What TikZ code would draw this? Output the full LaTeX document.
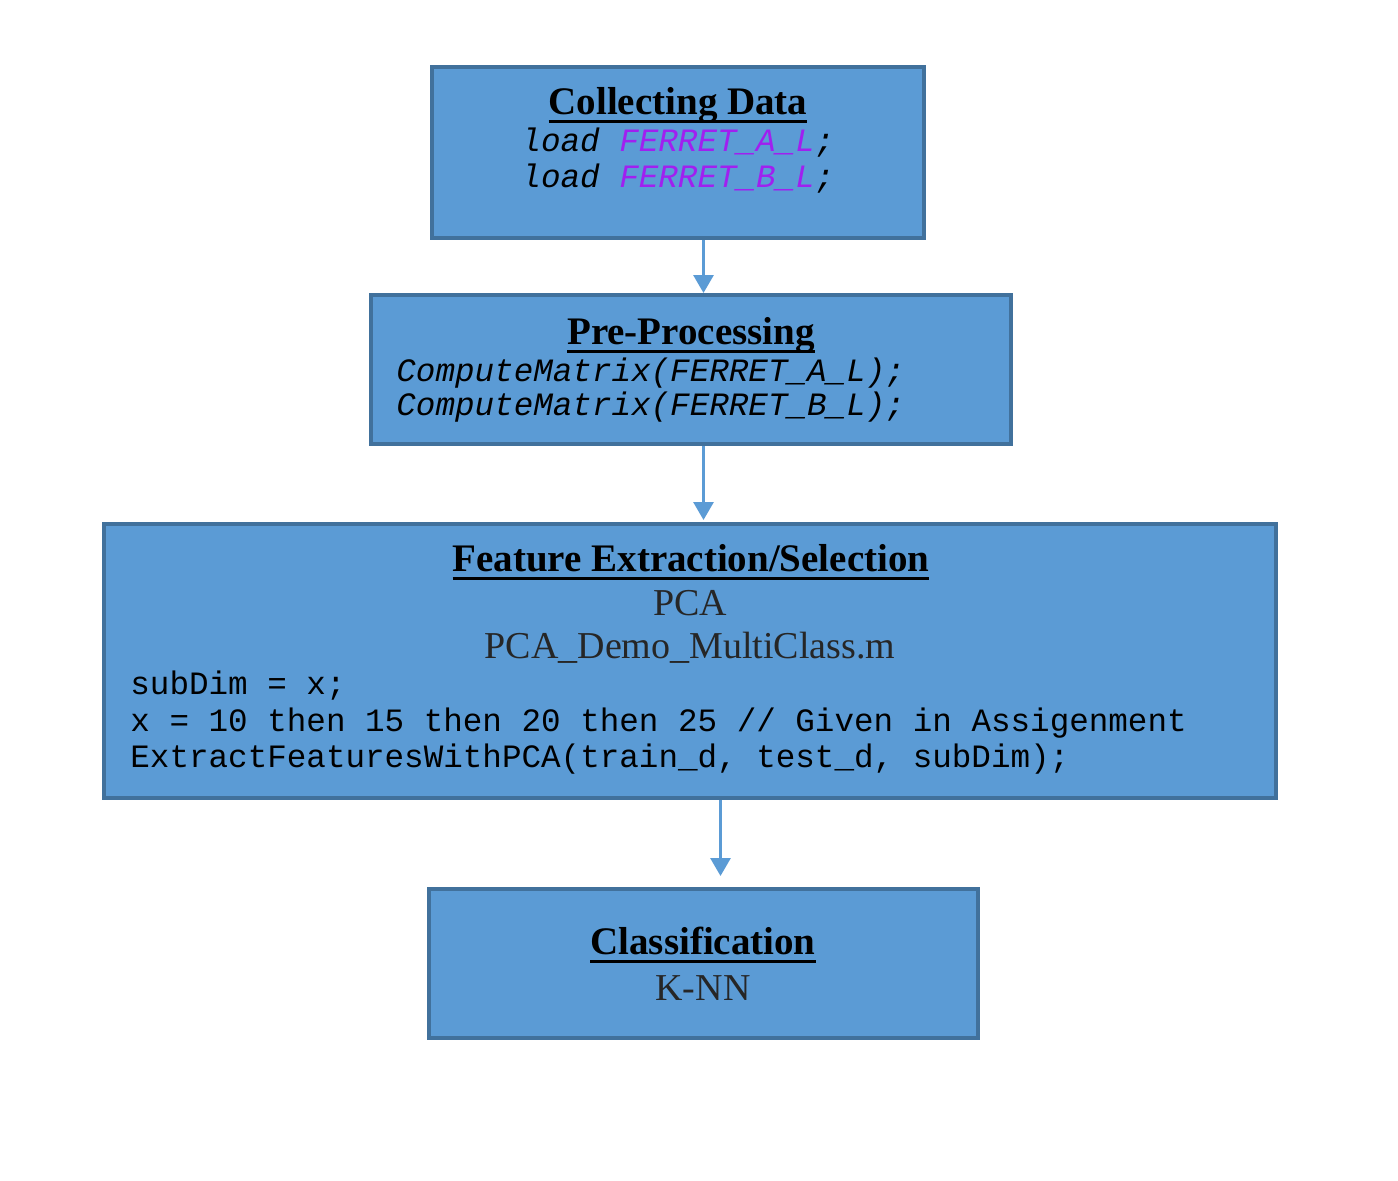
\documentclass[tikz,border=0pt]{standalone}
\usepackage{fontspec}
\setmainfont{Liberation Serif}
\setmonofont{Liberation Mono}
\usepackage{xcolor}
\usepackage{tikz}
\usetikzlibrary{arrows.meta, positioning}

\definecolor{stagefill}{HTML}{5B9BD5}
\definecolor{stageline}{HTML}{41719C}
\definecolor{matstr}{RGB}{160,32,240}
\definecolor{subtext}{HTML}{262626}

% underlined stage title
\newcommand{\stagetitle}[1]{\setbox0\hbox{#1}\rlap{\rule[-4.5pt]{\wd0}{1.6pt}}\box0}

\begin{document}
\begin{tikzpicture}[x=0.5pt, y=-0.5pt,
            stage/.style ={rectangle, draw=stageline, fill=stagefill, line width=2pt,
                           inner sep=0pt},
            title/.style ={anchor=base, inner sep=0pt, font=\fontsize{19.5}{22}\selectfont\bfseries},
            plain/.style ={anchor=base, inner sep=0pt, text=subtext, font=\fontsize{19}{22}\selectfont},
            code/.style  ={anchor=base, inner sep=0pt, font=\fontsize{16.3}{19}\selectfont\ttfamily},
            codel/.style ={code, anchor=base west},
            arr/.style   ={-{Triangle[width=10pt, length=9pt]}, line width=1.5pt, stagefill}
        ]
            \useasboundingbox (0,0) rectangle (1398,1180);

            % the four stages
            \node[stage, minimum width=246pt, minimum height=85.5pt]  (collect) at (678,152.5) {};
            \node[stage, minimum width=320pt, minimum height=74.5pt]  (prep)    at (691,369.5) {};
            \node[stage, minimum width=586pt, minimum height=137pt]   (feat)    at (690,661)   {};
            \node[stage, minimum width=274.5pt, minimum height=74.5pt] (classif) at (703.5,963.5) {};

            % texts
            \node[title] (collecttitle) at (678,114) {\stagetitle{Collecting Data}};
            \node[code]  (loada) at (678,151) {\itshape load \textcolor{matstr}{FERRET\_A\_L};};
            \node[code]  (loadb) at (678,187) {\itshape load \textcolor{matstr}{FERRET\_B\_L};};

            \node[title] (preptitle) at (691,344) {\stagetitle{Pre-Processing}};
            \node[codel] (compa) at (396,381) {\itshape ComputeMatrix(FERRET\_A\_L);};
            \node[codel] (compb) at (396,415) {\itshape ComputeMatrix(FERRET\_B\_L);};

            \node[title] (feattitle) at (691,571) {\stagetitle{Feature Extraction/Selection}};
            \node[plain] (pca)     at (690,615) {PCA};
            \node[plain] (pcafile) at (690,658) {PCA\_Demo\_MultiClass.m};
            \node[codel] (subdim)  at (130,694) {subDim = x;};
            \node[codel] (xvals)   at (130,731) {x = 10 then 15 then 20 then 25 // Given in Assigenment};
            \node[codel] (extract) at (130,767) {ExtractFeaturesWithPCA(train\_d, test\_d, subDim);};

            \node[title] (classiftitle) at (703,954) {\stagetitle{Classification}};
            \node[plain] (knn) at (703,1000) {K-NN};

            \draw[arr] (collect.south -| classif.north) -- (prep.north -| classif.north);
            \draw[arr] (prep.south -| classif.north) -- ([yshift=1pt]feat.north -| classif.north);
            \draw[arr] ([xshift=8.5pt]feat.south -| classif.north) -- ([xshift=8.5pt, yshift=5.5pt]classif.north);

        \end{tikzpicture}
\end{document}
